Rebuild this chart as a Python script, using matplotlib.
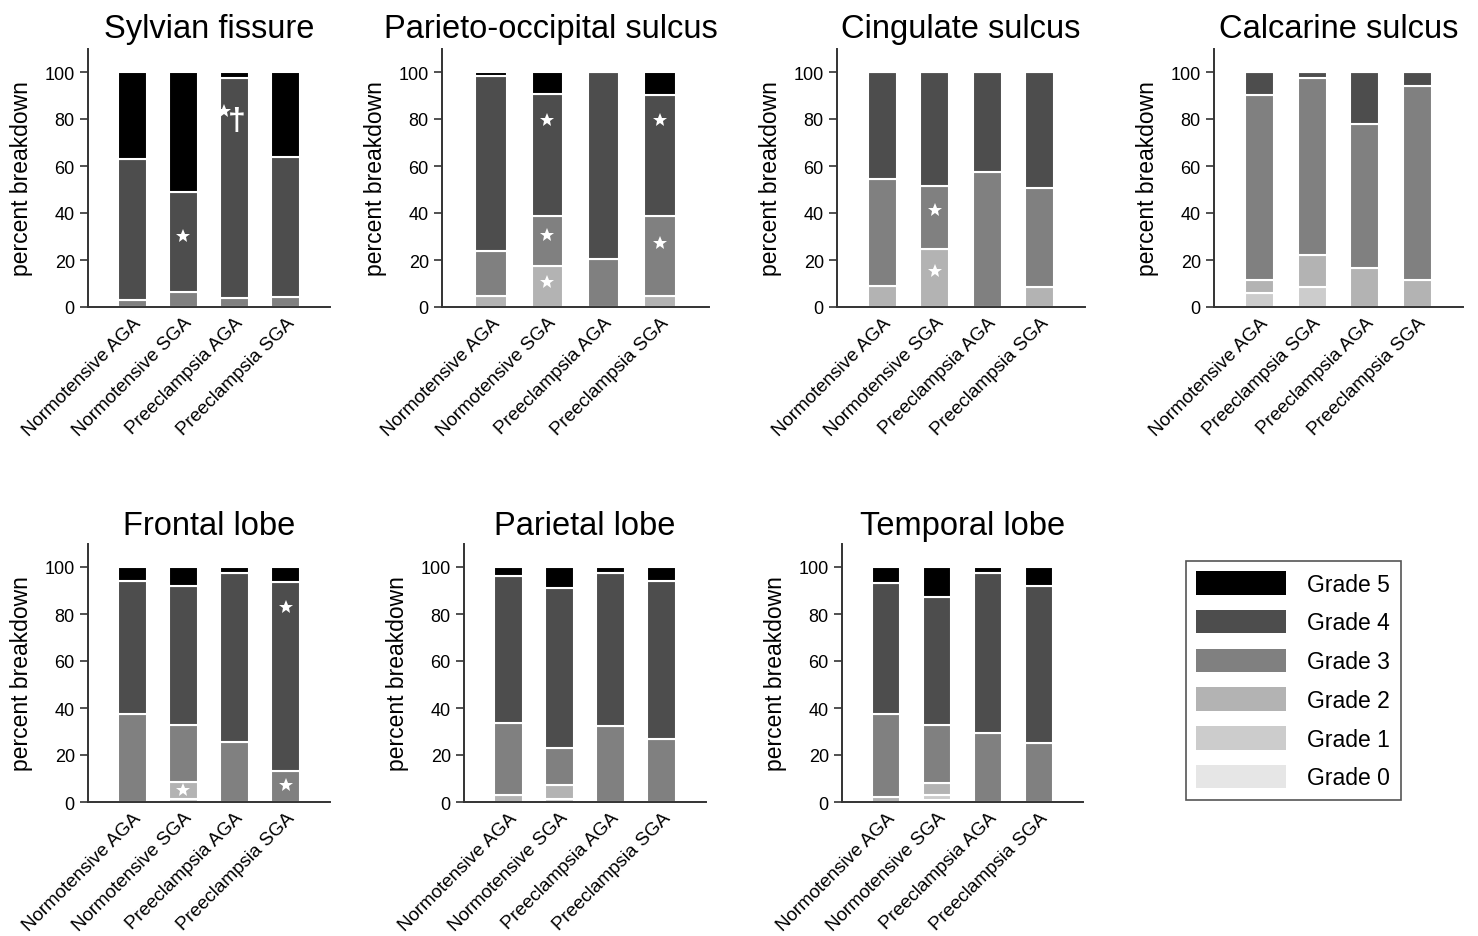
import matplotlib
matplotlib.use("Agg")
import matplotlib.pyplot as plt
from matplotlib.patches import Patch
import numpy as np

plt.rcParams['font.family'] = ['Liberation Sans', 'DejaVu Sans']

# ---------------- data ----------------
groups_std = ["Normotensive AGA", "Normotensive SGA", "Preeclampsia AGA", "Preeclampsia SGA"]
groups_calc = ["Normotensive AGA", "Preeclampsia SGA", "Preeclampsia AGA", "Preeclampsia SGA"]

grade_names = ["Grade 0", "Grade 1", "Grade 2", "Grade 3", "Grade 4", "Grade 5"]
grade_colors = ["#e6e6e6", "#cccccc", "#b3b3b3", "#808080", "#4d4d4d", "#000000"]

titles = ["Sylvian fissure", "Parieto-occipital sulcus", "Cingulate sulcus", "Calcarine sulcus",
          "Frontal lobe", "Parietal lobe", "Temporal lobe"]

# percent per grade (rows: Grade 0..5), columns: the 4 groups
sylvian = [
    [0, 0, 0, 0],
    [0, 0, 0, 0],
    [0, 0, 0, 0],
    [3.0, 6.5, 4.0, 4.3],
    [60.0, 42.5, 93.3, 59.7],
    [37.0, 51.0, 2.7, 36.0],
]
parieto = [
    [0, 0, 0, 0],
    [0, 0, 0, 0],
    [4.8, 17.5, 0, 4.8],
    [19.2, 21.1, 20.5, 33.8],
    [74.3, 52.1, 79.5, 51.6],
    [1.7, 9.3, 0, 9.8],
]
cingulate = [
    [0, 0, 0, 0],
    [0, 0, 0, 0],
    [9.0, 24.6, 0, 8.5],
    [45.6, 26.7, 57.4, 42.1],
    [45.4, 48.7, 42.6, 49.4],
    [0, 0, 0, 0],
]
calcarine = [
    [0, 0, 0, 0],
    [6.1, 8.5, 0, 0],
    [5.4, 13.5, 16.7, 11.5],
    [78.7, 75.6, 61.3, 82.7],
    [9.8, 2.4, 22.0, 5.8],
    [0, 0, 0, 0],
]
frontal = [
    [0, 0, 0, 0],
    [0, 1.2, 0, 0],
    [0, 7.3, 0, 0],
    [37.3, 24.3, 25.6, 13.1],
    [56.7, 59.1, 71.7, 80.5],
    [6.0, 8.1, 2.7, 6.4],
]
parietal = [
    [0, 0, 0, 0],
    [0, 1.2, 0, 0],
    [3.1, 5.9, 0, 0],
    [30.4, 16.0, 32.3, 26.6],
    [62.8, 68.1, 65.0, 67.6],
    [3.7, 8.8, 2.7, 5.8],
]
temporal = [
    [0, 1.0, 0, 0],
    [0, 2.0, 0, 0],
    [2.1, 5.0, 0, 0],
    [35.2, 24.8, 29.2, 25.2],
    [55.9, 54.4, 68.1, 66.7],
    [6.8, 12.8, 2.7, 8.1],
]

panel_data = [sylvian, parieto, cingulate, calcarine, frontal, parietal, temporal]
panel_groups = [groups_std, groups_std, groups_std, groups_calc, groups_std, groups_std, groups_std]

# significance marks: (panel index, bar index, y value)
stars = [
    (0, 1, 30.3), (1, 1, 79.6), (1, 1, 30.6), (1, 1, 10.5), (1, 3, 79.6), (1, 3, 27.1),
    (2, 1, 41.4), (2, 1, 15.5), (4, 1, 5.1), (4, 3, 83.1), (4, 3, 7.2),
]
star_dagger = [(0, 2, 83.4, 79.3)]

# ---------------- layout ----------------
W, H = 1478, 937
fig = plt.figure(figsize=(W / 100, H / 100), dpi=100)

# axes pixel boxes: (left, right, top_of_axes(ylim 110), bottom)
boxes = [
    (88, 330, 49.5, 308), (442, 709, 49.5, 308), (837, 1085, 49.5, 308), (1214, 1463, 49.5, 308),
    (88, 330, 544.5, 803), (464, 706, 544.5, 803), (842, 1083, 544.5, 803),
]
title_x = [0.5, 0.408, 0.5, 0.5, 0.5, 0.5, 0.5]
title_pad = [8, 8, 8, 8, 7, 7, 7]

axes = []
for i, (l, r, t, b) in enumerate(boxes):
    ax = fig.add_axes([l / W, 1 - b / H, (r - l) / W, (b - t) / H])
    axes.append(ax)
    data = np.array(panel_data[i], dtype=float)
    x = np.arange(4)
    bottom = np.zeros(4)
    for g in range(6):
        ax.bar(x, data[g], width=0.56, bottom=bottom, color=grade_colors[g],
               edgecolor="white", linewidth=1.5, zorder=2)
        bottom += data[g]
    ax.set_xlim(-0.87, 3.87)
    ax.set_ylim(0, 110)
    ax.set_yticks([0, 20, 40, 60, 80, 100])
    ax.set_xticks(x)
    ax.set_xticklabels(panel_groups[i], rotation=45, ha="right", rotation_mode="anchor",
                       fontsize=13.5)
    ax.tick_params(axis="y", labelsize=13, length=6, width=1.2, color="#333333")
    ax.tick_params(axis="x", length=0, pad=5)
    for s in ["top", "right"]:
        ax.spines[s].set_visible(False)
    for s in ["left", "bottom"]:
        ax.spines[s].set_linewidth(1.4)
        ax.spines[s].set_color("#333333")
    ax.set_ylabel("percent breakdown", fontsize=16.5, labelpad=8)
    ax.set_title(titles[i], fontsize=23.5, pad=title_pad[i], x=title_x[i])

for (p, bi, yv) in stars:
    axes[p].plot(bi, yv, marker="*", color="white", markersize=10.5, markeredgewidth=0, zorder=5)
for (p, bi, ys, yd) in star_dagger:
    axes[p].plot(bi - 0.2, ys, marker="*", color="white", markersize=10.5, markeredgewidth=0, zorder=5)
    axes[p].text(bi + 0.05, yd, "\u2020", color="white", fontsize=23, ha="center", va="center",
                 fontweight="bold", zorder=5)

handles = [Patch(facecolor=grade_colors[g], edgecolor="none") for g in range(5, -1, -1)]
labels = [grade_names[g] for g in range(5, -1, -1)]
leg = fig.legend(handles, labels, loc="upper left", bbox_to_anchor=(1186 / W, 1 - 562 / H),
                 fontsize=16.5, handlelength=3.9, handleheight=1.2, handletextpad=0.95,
                 labelspacing=0.62, borderpad=0.45, fancybox=False, framealpha=1,
                 edgecolor="#555555", borderaxespad=0)
leg.get_frame().set_linewidth(1.2)

fig.savefig("out.png", dpi=100)
